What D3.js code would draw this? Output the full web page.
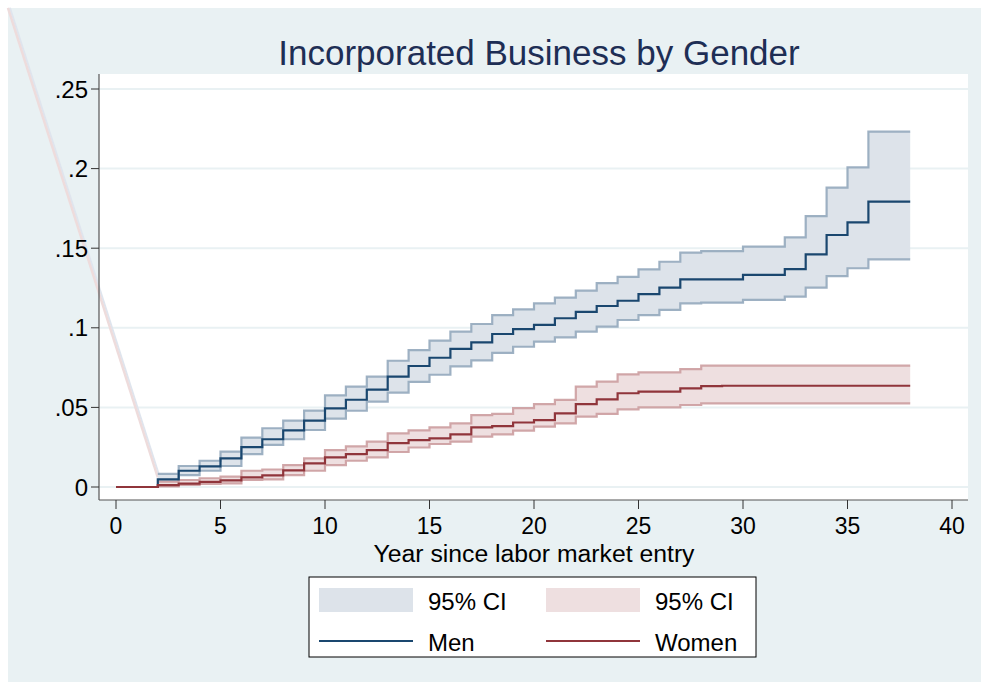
<!DOCTYPE html>
<html>
<head>
<meta charset="utf-8">
<script src="https://cdn.jsdelivr.net/npm/d3@7"></script>
<style>
  body { margin: 0; background: #ffffff; }
  text { font-family: "Liberation Sans", Arial, sans-serif; }
</style>
</head>
<body>
<div id="chart"></div>
<script>
// years since labor market entry
const years = [0, 1, 2, 3, 4, 5, 6, 7, 8, 9, 10, 11, 12, 13, 14, 15, 16, 17, 18, 19,
               20, 21, 22, 23, 24, 25, 26, 27, 28, 29, 30, 31, 32, 33, 34, 35, 36, 37, 38];

const menEst = [0, 0, .0048, .0102, .013, .018, .025, .030, .0356, .0417, .0494, .0548, .0612, .0693, .076, .0812, .0867, .0909, .0961, .0992,
                .1018, .106, .110, .1137, .117, .1212, .1252, .1304, .1304, .1304, .1332, .1332, .1369, .1461, .1583, .1662, .1792, .1792, .1792];
const menHi  = [0, 0, .0082, .0132, .0165, .0222, .031, .0369, .0417, .048, .0575, .063, .0693, .0793, .086, .0919, .0976, .1024, .108, .1116,
                .1154, .119, .1233, .128, .132, .1367, .1415, .1472, .1482, .1482, .151, .151, .1568, .1702, .188, .2008, .2232, .2232, .2232];
const menLo  = [0, 0, .0019, .0075, .0102, .0132, .0207, .0264, .030, .0358, .043, .0479, .0536, .0593, .066, .0705, .0758, .0795, .0843, .0881,
                .0913, .094, .0976, .1007, .1049, .108, .1112, .1154, .1158, .1158, .1175, .1175, .1196, .1252, .1325, .1374, .143, .143, .143];

const womenEst = [0, 0, .0012, .0021, .0032, .0042, .006, .0073, .0104, .0148, .0186, .0207, .0232, .0275, .0295, .0306, .0331, .0375, .0383, .0405,
                  .042, .0463, .0521, .0551, .0589, .0599, .0599, .062, .0634, .0636, .0636, .0636, .0636, .0636, .0636, .0636, .0636, .0636, .0636];
const womenHi  = [0, 0, .0034, .0044, .0055, .0065, .0102, .011, .0138, .018, .0232, .0255, .0285, .0337, .0356, .0375, .040, .0452, .0459, .0495,
                  .052, .0547, .063, .0662, .0708, .072, .072, .0741, .0762, .0762, .0762, .0762, .0762, .0762, .0762, .0762, .0762, .0762, .0762];
const womenLo  = [0, 0, .0003, .0013, .0019, .0023, .0044, .0048, .0075, .0102, .0138, .0165, .0186, .022, .0248, .027, .0285, .0316, .0331, .0354,
                  .0379, .040, .0442, .0459, .0488, .050, .050, .0515, .0525, .0525, .0525, .0525, .0525, .0525, .0525, .0525, .0525, .0525, .0525];

const xTicks = [0, 5, 10, 15, 20, 25, 30, 35, 40];
const yTicks = [0, .05, .1, .15, .2, .25];
const yTickLabels = ["0", ".05", ".1", ".15", ".2", ".25"];

// stray line crossing the left of the graph (year, value)
const strayLine = [[-5.17, .301], [2, .006]];

const width = 981, height = 682;
const plot = { left: 99, right: 968, top: 74, bottom: 500 };

const svg = d3.select("#chart").append("svg")
    .attr("width", width)
    .attr("height", height);

// graph region background
svg.append("rect")
    .attr("x", 8).attr("y", 8)
    .attr("width", width - 8).attr("height", height - 8)
    .attr("fill", "#e9f1f3");

// plot region
svg.append("rect")
    .attr("x", plot.left).attr("y", plot.top)
    .attr("width", plot.right - plot.left).attr("height", plot.bottom - plot.top)
    .attr("fill", "#ffffff");

const x = d3.scaleLinear().domain([0, 40]).range([116, 952]);
const y = d3.scaleLinear().domain([0, .25]).range([487, 89]);

// grid lines
svg.append("g").selectAll("line")
    .data(yTicks)
    .join("line")
    .attr("x1", plot.left).attr("x2", plot.right)
    .attr("y1", d => y(d)).attr("y2", d => y(d))
    .attr("stroke", "#e9f1f3")
    .attr("stroke-width", 2);

// stray line
svg.append("line")
    .attr("x1", x(strayLine[0][0]) + 2).attr("y1", y(strayLine[0][1]))
    .attr("x2", x(strayLine[1][0]) + 2).attr("y2", y(strayLine[1][1]))
    .attr("stroke", "#dfe5ee").attr("stroke-width", 2);
svg.append("line")
    .attr("x1", x(strayLine[0][0])).attr("y1", y(strayLine[0][1]))
    .attr("x2", x(strayLine[1][0])).attr("y2", y(strayLine[1][1]))
    .attr("stroke", "#eedcdc").attr("stroke-width", 2.5);

const rows = years.map((yr, i) => ({
    year: yr,
    menEst: menEst[i], menHi: menHi[i], menLo: menLo[i],
    womenEst: womenEst[i], womenHi: womenHi[i], womenLo: womenLo[i]
}));

const series = [
    { key: "men", color: "#1a476f", fill: "#dde3ea", edge: "#94a9bd" },
    { key: "women", color: "#90353b", fill: "#eedfe0", edge: "#cc9da0" }
];

const dataGroup = svg.append("g");

// confidence bands
series.forEach(s => {
    const area = d3.area()
        .curve(d3.curveStepAfter)
        .x(d => x(d.year))
        .y0(d => y(d[s.key + "Lo"]))
        .y1(d => y(d[s.key + "Hi"]));
    dataGroup.append("path")
        .datum(rows.filter(d => d.year >= 2))
        .attr("d", area)
        .attr("fill", s.fill);
    ["Hi", "Lo"].forEach(b => {
        const edge = d3.line()
            .curve(d3.curveStepAfter)
            .x(d => x(d.year))
            .y(d => y(d[s.key + b]));
        dataGroup.append("path")
            .datum(rows.filter(d => d.year >= 2))
            .attr("d", edge)
            .attr("fill", "none")
            .attr("stroke", s.edge)
            .attr("stroke-width", 2.2)
            .attr("stroke-opacity", 0.9);
    });
});

// estimates
series.forEach(s => {
    const line = d3.line()
        .curve(d3.curveStepAfter)
        .x(d => x(d.year))
        .y(d => y(d[s.key + "Est"]));
    dataGroup.append("path")
        .datum(rows)
        .attr("d", line)
        .attr("fill", "none")
        .attr("stroke", s.color)
        .attr("stroke-width", 2.2);
});

const fontSize = "24px";

// y axis
svg.append("line")
    .attr("x1", plot.left).attr("x2", plot.left)
    .attr("y1", plot.top).attr("y2", plot.bottom)
    .attr("stroke", "#555").attr("stroke-width", 1.2);
svg.append("g").selectAll("line")
    .data(yTicks)
    .join("line")
    .attr("x1", plot.left - 8).attr("x2", plot.left)
    .attr("y1", d => y(d)).attr("y2", d => y(d))
    .attr("stroke", "#333").attr("stroke-width", 1);
svg.append("g").selectAll("text")
    .data(yTicks)
    .join("text")
    .attr("x", plot.left - 11)
    .attr("y", d => y(d))
    .attr("text-anchor", "end")
    .attr("dominant-baseline", "central")
    .attr("font-size", fontSize)
    .attr("fill", "#000")
    .text((d, i) => yTickLabels[i]);

// x axis
svg.append("line")
    .attr("x1", plot.left).attr("x2", plot.right)
    .attr("y1", plot.bottom).attr("y2", plot.bottom)
    .attr("stroke", "#555").attr("stroke-width", 1.2);
svg.append("g").selectAll("line")
    .data(xTicks)
    .join("line")
    .attr("x1", d => x(d)).attr("x2", d => x(d))
    .attr("y1", plot.bottom).attr("y2", plot.bottom + 9)
    .attr("stroke", "#333").attr("stroke-width", 1);
svg.append("g").selectAll("text")
    .data(xTicks)
    .join("text")
    .attr("x", d => x(d))
    .attr("y", 526)
    .attr("text-anchor", "middle")
    .attr("dominant-baseline", "central")
    .attr("font-size", "23px")
    .attr("fill", "#000")
    .text(d => d);

svg.append("text")
    .attr("x", x(20))
    .attr("y", 554)
    .attr("text-anchor", "middle")
    .attr("dominant-baseline", "central")
    .attr("font-size", "23px")
    .attr("textLength", 321)
    .attr("lengthAdjust", "spacingAndGlyphs")
    .attr("fill", "#000")
    .text("Year since labor market entry");

// title
svg.append("text")
    .attr("x", 539)
    .attr("y", 52)
    .attr("text-anchor", "middle")
    .attr("dominant-baseline", "central")
    .attr("font-size", "35px")
    .attr("fill", "#1e2e55")
    .text("Incorporated Business by Gender");

// legend
const legend = svg.append("g");
legend.append("rect")
    .attr("x", 309).attr("y", 577)
    .attr("width", 447).attr("height", 80)
    .attr("fill", "#ffffff")
    .attr("stroke", "#000").attr("stroke-width", 1);

const legendItems = [
    { label: "95% CI", type: "area", s: series[0], col: 0, row: 0 },
    { label: "95% CI", type: "area", s: series[1], col: 1, row: 0 },
    { label: "Men", type: "line", s: series[0], col: 0, row: 1 },
    { label: "Women", type: "line", s: series[1], col: 1, row: 1 }
];
legendItems.forEach(it => {
    const lx = 319 + it.col * 227;
    const ly = 600 + it.row * 41;
    if (it.type === "area") {
        legend.append("rect")
            .attr("x", lx).attr("y", ly - 12)
            .attr("width", 94).attr("height", 24)
            .attr("fill", it.s.fill);
    } else {
        legend.append("line")
            .attr("x1", lx).attr("x2", lx + 94)
            .attr("y1", ly).attr("y2", ly)
            .attr("stroke", it.s.color).attr("stroke-width", 2.2);
    }
    legend.append("text")
        .attr("x", lx + 109)
        .attr("y", ly + 1)
        .attr("dominant-baseline", "central")
        .attr("font-size", fontSize)
        .attr("fill", "#000")
        .text(it.label);
});
</script>
</body>
</html>
